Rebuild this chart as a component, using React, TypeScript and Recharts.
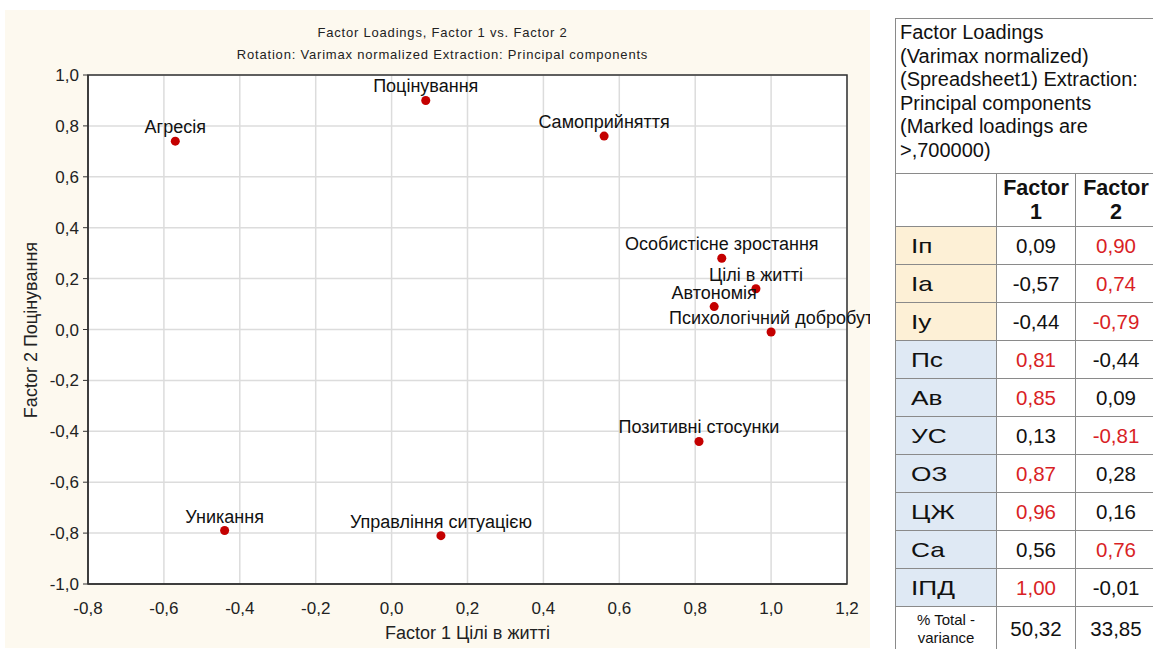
import React from 'react'
import {
  ScatterChart, Scatter, XAxis, YAxis, ZAxis, CartesianGrid, LabelList, ReferenceArea,
} from 'recharts'

const labels = [
  'Поцінування', 'Агресія', 'Уникання', 'Позитивні стосунки', 'Автономія',
  'Управління ситуацією', 'Особистісне зростання', 'Цілі в житті', 'Самоприйняття',
  'Психологічний добробут',
]
const codes = ['Iп', 'Iа', 'Iу', 'Пс', 'Ав', 'УС', 'ОЗ', 'ЦЖ', 'Са', 'ІПД']
const factor1 = [0.09, -0.57, -0.44, 0.81, 0.85, 0.13, 0.87, 0.96, 0.56, 1.0]
const factor2 = [0.9, 0.74, -0.79, -0.44, 0.09, -0.81, 0.28, 0.16, 0.76, -0.01]
const variance = [50.32, 33.85]
const xTicks = [-0.8, -0.6, -0.4, -0.2, 0, 0.2, 0.4, 0.6, 0.8, 1.0, 1.2]
const yTicks = [-1.0, -0.8, -0.6, -0.4, -0.2, 0, 0.2, 0.4, 0.6, 0.8, 1.0]
const tableTitle = [
  'Factor Loadings', '(Varimax normalized)', '(Spreadsheet1) Extraction:',
  'Principal components', '(Marked loadings are', '>,700000)',
]

const FONT = '"Liberation Sans", Arial, sans-serif'
const RED = '#d91f26'

const points = labels.map((name, i) => ({ name, x: factor1[i], y: factor2[i] }))

const fmt1 = (v: number) => v.toFixed(1).replace('.', ',')
const fmt2 = (v: number) => v.toFixed(2).replace('.', ',')

// plain label above the point, no wrapping
function PointLabel(props: any) {
  const vb = props.viewBox || props
  const cx = Number(vb.x) + Number(vb.width || 0) / 2
  const cy = Number(vb.y) + Number(vb.height || 0) / 2
  return (
    <text x={cx} y={cy - 8} textAnchor="middle" fontSize={18} fill="#111" fontFamily={FONT}>
      {props.value}
    </text>
  )
}

function LoadingsTable() {
  const cell: React.CSSProperties = {
    border: '1px solid #8a8a8a',
    padding: 0,
    height: 37,
    fontSize: 20.5,
    textAlign: 'center',
  }
  return (
    <table
      style={{
        position: 'absolute', left: 895, top: 18, borderCollapse: 'collapse',
        fontFamily: FONT, color: '#111', background: '#fff', width: 262,
      }}
    >
      <tbody>
        <tr>
          <td colSpan={3} style={{ ...cell, height: 150, textAlign: 'left', fontSize: 20, lineHeight: '23.5px', padding: '2px 4px', verticalAlign: 'top', whiteSpace: 'nowrap' }}>
            {tableTitle.map((t, i) => <div key={i}>{t}</div>)}
          </td>
        </tr>
        <tr>
          <td style={{ ...cell, width: 100, height: 52 }}></td>
          <td style={{ ...cell, width: 78, fontWeight: 'bold', fontSize: 21.5, lineHeight: '24px' }}>Factor<br />1</td>
          <td style={{ ...cell, fontWeight: 'bold', fontSize: 21.5, lineHeight: '24px' }}>Factor<br />2</td>
        </tr>
        {codes.map((c, i) => (
          <tr key={c}>
            <td style={{ ...cell, textAlign: 'left', paddingLeft: 15, fontSize: 21, background: i < 3 ? '#fdf0d6' : '#dfe9f4' }}>
              <span style={{ display: 'inline-block', transform: 'scaleX(1.25)', transformOrigin: 'left center' }}>{c}</span>
            </td>
            <td style={{ ...cell, color: Math.abs(factor1[i]) > 0.7 ? RED : '#111' }}>{fmt2(factor1[i])}</td>
            <td style={{ ...cell, color: Math.abs(factor2[i]) > 0.7 ? RED : '#111' }}>{fmt2(factor2[i])}</td>
          </tr>
        ))}
        <tr>
          <td style={{ ...cell, height: 43, fontSize: 15, lineHeight: '18px' }}>% Total -<br />variance</td>
          <td style={cell}>{fmt2(variance[0])}</td>
          <td style={cell}>{fmt2(variance[1])}</td>
        </tr>
      </tbody>
    </table>
  )
}

export default function App() {
  const titleStyle: React.CSSProperties = {
    position: 'absolute', left: 0, width: 875, textAlign: 'center',
    fontFamily: FONT, fontSize: 13, letterSpacing: 0.8, color: '#222',
  }
  return (
    <div style={{ position: 'absolute', left: 0, top: 0, width: 1153, height: 649, background: '#fff', overflow: 'hidden' }}>
      <div style={{ position: 'absolute', left: 5, top: 10, width: 865, height: 638, background: '#fdf9ef', overflow: 'hidden' }}>
        <div style={{ ...titleStyle, top: 15 }}>Factor Loadings, Factor 1 vs. Factor 2</div>
        <div style={{ ...titleStyle, top: 37 }}>Rotation: Varimax normalized Extraction: Principal components</div>
        <ScatterChart width={865} height={638} margin={{ top: 65, right: 23, bottom: 14, left: 23 }}>
          <CartesianGrid stroke="#dcdcdc" strokeWidth={1.5} fill="#ffffff" />
          <XAxis
            type="number" dataKey="x" domain={[-0.8, 1.2]} ticks={xTicks} allowDataOverflow
            tickFormatter={fmt1} height={50} axisLine={{ stroke: '#333', strokeWidth: 1.5 }}
            tickLine={false} tickMargin={12}
            tick={{ fontSize: 17, fill: '#222', fontFamily: FONT }}
          />
          <XAxis
            xAxisId="top" orientation="top" type="number" domain={[-0.8, 1.2]} ticks={xTicks}
            allowDataOverflow height={0} mirror tick={false} tickSize={5}
            axisLine={false} tickLine={{ stroke: '#333' }}
          />
          <YAxis
            type="number" dataKey="y" domain={[-1, 1]} ticks={yTicks} allowDataOverflow
            tickFormatter={fmt1} width={60} axisLine={{ stroke: '#333', strokeWidth: 1.5 }}
            tickSize={5} tickLine={{ stroke: '#333' }} tickMargin={4}
            tick={{ fontSize: 17, fill: '#222', fontFamily: FONT }}
          />
          <YAxis
            yAxisId="right" orientation="right" type="number" domain={[-1, 1]} ticks={yTicks}
            allowDataOverflow width={0} mirror tick={false} tickSize={5}
            axisLine={false} tickLine={{ stroke: '#333' }}
          />
          <ZAxis range={[45, 45]} />
          <ReferenceArea x1={-0.8} x2={1.2} y1={-1} y2={1} fill="none" stroke="#333" strokeWidth={1.5} ifOverflow="visible" />
          <Scatter data={points} fill="#c40000" isAnimationActive={false}>
            <LabelList dataKey="name" content={PointLabel} />
          </Scatter>
        </ScatterChart>
        <div style={{ position: 'absolute', left: 0, width: 925, top: 613, textAlign: 'center', fontFamily: FONT, fontSize: 18, color: '#222' }}>
          Factor 1 Цілі в житті
        </div>
        <div style={{ position: 'absolute', left: 26, top: 320, width: 0, height: 0 }}>
          <div style={{ position: 'absolute', left: -120, top: -11, width: 240, textAlign: 'center', transform: 'rotate(-90deg)', fontFamily: FONT, fontSize: 18, color: '#222', lineHeight: '22px' }}>
            Factor 2 Поцінування
          </div>
        </div>
      </div>
      <LoadingsTable />
    </div>
  )
}
